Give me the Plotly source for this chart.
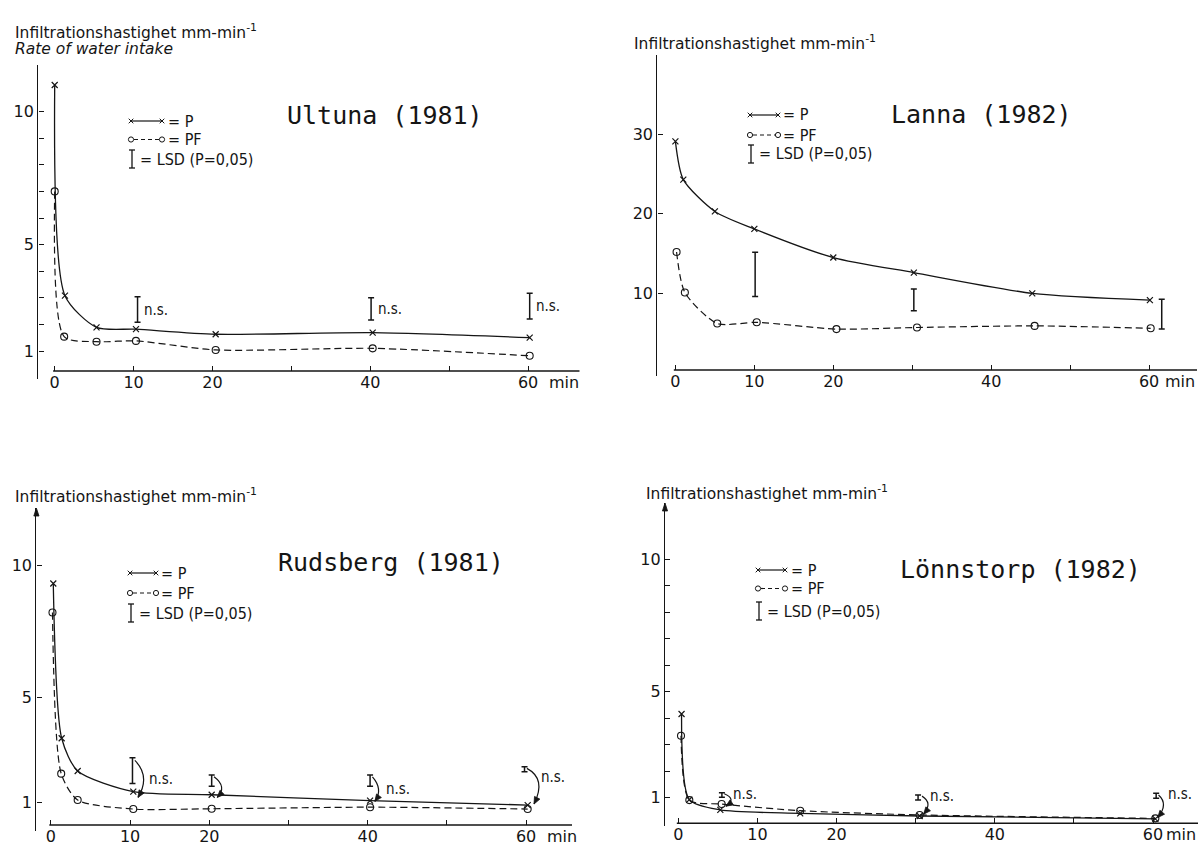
import math
import plotly.graph_objects as go

# ------------------------------------------------------------------ data
# time after start (min) and infiltration rate (mm/min)
ultuna_p_t = [0.0, 1.3, 5.3, 10.3, 20.4, 40.3, 60.2]
ultuna_p = [11.0, 3.08, 1.89, 1.82, 1.63, 1.69, 1.50]
ultuna_pf_t = [0.0, 1.2, 5.3, 10.3, 20.4, 40.3, 60.2]
ultuna_pf = [7.0, 1.54, 1.35, 1.38, 1.04, 1.10, 0.82]
ultuna_lsd_t = [10.5, 40.1, 60.2]
ultuna_lsd_lo = [2.08, 2.17, 2.20]
ultuna_lsd_hi = [3.04, 3.00, 3.17]
ultuna_lsd_note = ["n.s.", "n.s.", "n.s."]

lanna_p_t = [0.0, 1.0, 5.0, 10.0, 20.0, 30.2, 45.2, 60.1]
lanna_p = [29.1, 24.3, 20.3, 18.1, 14.5, 12.6, 10.0, 9.15]
lanna_pf_t = [0.15, 1.2, 5.3, 10.3, 20.4, 30.6, 45.5, 60.2]
lanna_pf = [15.2, 10.1, 6.2, 6.35, 5.5, 5.7, 5.9, 5.6]
lanna_lsd_t = [10.1, 30.2, 61.6]
lanna_lsd_lo = [9.6, 7.8, 5.5]
lanna_lsd_hi = [15.15, 10.55, 9.25]
lanna_lsd_note = ["", "", ""]

rudsberg_p_t = [0.3, 1.36, 3.38, 10.4, 20.3, 40.3, 60.2]
rudsberg_p = [9.3, 3.44, 2.2, 1.42, 1.30, 1.08, 0.91]
rudsberg_pf_t = [0.2, 1.3, 3.38, 10.4, 20.3, 40.3, 60.2]
rudsberg_pf = [8.2, 2.1, 1.1, 0.76, 0.77, 0.83, 0.76]
rudsberg_lsd_t = [10.3, 20.3, 40.3, 59.8]
rudsberg_lsd_lo = [1.73, 1.62, 1.62, 2.17]
rudsberg_lsd_hi = [2.70, 2.05, 2.05, 2.36]
rudsberg_lsd_note = ["n.s.", "", "n.s.", "n.s."]

lonnstorp_p_t = [0.4, 1.38, 5.3, 15.4, 30.5, 60.3]
lonnstorp_p = [4.16, 0.93, 0.54, 0.41, 0.31, 0.20]
lonnstorp_pf_t = [0.33, 1.38, 5.47, 15.4, 30.5, 60.3]
lonnstorp_pf = [3.34, 0.91, 0.76, 0.51, 0.35, 0.22]
lonnstorp_lsd_t = [5.5, 30.3, 60.4]
lonnstorp_lsd_lo = [1.02, 0.91, 0.98]
lonnstorp_lsd_hi = [1.19, 1.10, 1.17]
lonnstorp_lsd_note = ["n.s.", "n.s.", "n.s."]

# labelled and unlabelled ticks on the time axis
x_tickvals = [0, 10, 20, 40, 60]
x_ticktext = ["0", "10", "20", "40", "60"]
x_minorvals = [30, 50]

# ------------------------------------------------------------------ page
W, H = 1200, 849
INK = "#151515"
SANS = "DejaVu Sans, Verdana, sans-serif"
COND = "DejaVu Sans Condensed, DejaVu Sans, sans-serif"
MONO = "DejaVu Sans Mono, monospace"
AXIS_TITLE = "Infiltrationshastighet mm-min<sup>-1</sup>"


def px(x):
    return x / W


def py(y):
    return 1 - y / H


def arrowhead_path(hx, hy, ux, uy, to_x, to_y, length=7.0, half=3.0):
    """Filled triangle with its tip at (hx, hy); (ux, uy) is the unit pointing
    direction in screen pixels, to_x / to_y map pixel offsets to axis units."""
    bx, by = -ux * length, -uy * length
    qx, qy = -uy * half, ux * half
    pts = [(0.0, 0.0), (bx + qx, by + qy), (bx - qx, by - qy)]
    coords = [(hx + to_x(a), hy + to_y(b)) for a, b in pts]
    return "M " + " L ".join(f"{a:.4f},{b:.4f}" for a, b in coords) + " Z"


panels = [
    dict(
        title="Ultuna (1981)", title_xy=(385, 116),
        ytitle_xy=(13, 31), subtitle_xy=(13, 49),
        p_t=ultuna_p_t, p=ultuna_p, pf_t=ultuna_pf_t, pf=ultuna_pf,
        lsd_t=ultuna_lsd_t, lsd_lo=ultuna_lsd_lo, lsd_hi=ultuna_lsd_hi,
        lsd_note=ultuna_lsd_note, note_off=(0.6, 0.0),
        yticks=[1, 5, 10], yminor=[2, 3, 4, 6, 7, 8, 9],
        # pixel frame: y-axis x, x of t=0, px per min, x end, y top/bottom,
        # x-axis line y, y of value 0, px per unit
        yl_x=38.3, t0=54.7, ppm=7.89, xend=579.7, ytop=65, ybot=379,
        xline=371, v0=377.6, ppu=26.6, arrow_top=False, min_t=62.4,
        legend=dict(x0=131, x1=162, rows=(121, 139.5, 159), tx=166),
        arrows=[],
    ),
    dict(
        title="Lanna (1982)", title_xy=(981, 114),
        ytitle_xy=(632, 42), subtitle_xy=None,
        p_t=lanna_p_t, p=lanna_p, pf_t=lanna_pf_t, pf=lanna_pf,
        lsd_t=lanna_lsd_t, lsd_lo=lanna_lsd_lo, lsd_hi=lanna_lsd_hi,
        lsd_note=lanna_lsd_note, note_off=(0.6, 0.0),
        yticks=[10, 20, 30], yminor=[],
        yl_x=657.4, t0=675.4, ppm=7.895, xend=1197, ytop=55, ybot=376,
        xline=370, v0=372.8, ppu=7.95, arrow_top=False, min_t=61.7,
        legend=dict(x0=750, x1=778, rows=(115, 135, 154), tx=781),
        arrows=[],
    ),
    dict(
        title="Rudsberg (1981)", title_xy=(391, 562),
        ytitle_xy=(13, 495), subtitle_xy=None,
        p_t=rudsberg_p_t, p=rudsberg_p, pf_t=rudsberg_pf_t, pf=rudsberg_pf,
        lsd_t=rudsberg_lsd_t, lsd_lo=rudsberg_lsd_lo, lsd_hi=rudsberg_lsd_hi,
        lsd_note=rudsberg_lsd_note, note_off=(1.8, -0.3),
        yticks=[1, 5, 10], yminor=[],
        yl_x=36.4, t0=50.9, ppm=7.92, xend=572, ytop=508, ybot=831,
        xline=825, v0=829.1, ppu=26.41, arrow_top=True, min_t=62.4,
        legend=dict(x0=130, x1=156, rows=(573, 593, 613), tx=159),
        arrows=[
            ((10.6, 2.6), (12.6, 2.0), (11.0, 1.2)),
            ((20.6, 1.98), (22.3, 1.6), (21.0, 1.2)),
            ((40.6, 1.98), (42.0, 1.5), (40.9, 1.05)),
            ((60.1, 2.3), (62.6, 1.9), (61.0, 0.95)),
        ],
    ),
    dict(
        title="Lönnstorp (1982)", title_xy=(1020, 569),
        ytitle_xy=(644, 492), subtitle_xy=None,
        p_t=lonnstorp_p_t, p=lonnstorp_p, pf_t=lonnstorp_pf_t, pf=lonnstorp_pf,
        lsd_t=lonnstorp_lsd_t, lsd_lo=lonnstorp_lsd_lo, lsd_hi=lonnstorp_lsd_hi,
        lsd_note=lonnstorp_lsd_note, note_off=(1.2, 0.05),
        yticks=[1, 5, 10], yminor=[2, 3, 4, 6, 7, 8, 9],
        yl_x=665, t0=678.4, ppm=7.91, xend=1198, ytop=503, ybot=826,
        xline=823.3, v0=824.2, ppu=26.49, arrow_top=True, min_t=61.4,
        legend=dict(x0=758, x1=785, rows=(570, 588.5, 611), tx=789),
        arrows=[
            ((5.8, 1.15), (7.4, 0.95), (6.0, 0.68)),
            ((30.8, 1.06), (32.2, 0.8), (31.0, 0.38)),
            ((60.7, 1.1), (62.0, 0.75), (60.6, 0.25)),
        ],
    ),
]

fig = go.Figure()
shapes, annotations = [], []
layout_axes = {}


def paper_line(x0, y0, x1, y1, width=1.2, dash=None):
    line = dict(color=INK, width=width)
    if dash:
        line["dash"] = dash
    return dict(type="line", xref="paper", yref="paper",
                x0=px(x0), y0=py(y0), x1=px(x1), y1=py(y1), line=line)


for i, pn in enumerate(panels):
    n = "" if i == 0 else str(i + 1)
    xa, ya = "x" + n, "y" + n
    ppm, ppu = pn["ppm"], pn["ppu"]
    xr = [(pn["yl_x"] - pn["t0"]) / ppm, (pn["xend"] - pn["t0"]) / ppm]
    yr = [(pn["v0"] - pn["ybot"]) / ppu, (pn["v0"] - pn["ytop"]) / ppu]
    v_xline = (pn["v0"] - pn["xline"]) / ppu

    layout_axes["xaxis" + n] = dict(
        domain=[px(pn["yl_x"]), px(pn["xend"])], range=xr,
        anchor="free", position=py(pn["xline"]),
        showline=False, showgrid=False, zeroline=False,
        ticks="inside", ticklen=5, tickwidth=1.2, tickcolor=INK,
        tickmode="array", tickvals=x_tickvals, ticktext=x_ticktext,
        minor=dict(tickmode="array", tickvals=x_minorvals, ticks="inside",
                   ticklen=5, tickwidth=1.2, tickcolor=INK, showgrid=False),
        tickfont=dict(family=SANS, size=16, color=INK),
        fixedrange=True,
    )
    yaxis = dict(
        domain=[py(pn["ybot"]), py(pn["ytop"])], range=yr,
        anchor=xa, showline=True, linecolor=INK, linewidth=1.4,
        showgrid=False, zeroline=False,
        ticks="inside", ticklen=5, tickwidth=1.2, tickcolor=INK,
        tickmode="array", tickvals=pn["yticks"],
        ticktext=[str(v) for v in pn["yticks"]],
        tickfont=dict(family=SANS, size=16, color=INK),
        fixedrange=True,
    )
    if pn["yminor"]:
        yaxis["minor"] = dict(tickmode="array", tickvals=pn["yminor"], ticks="inside",
                              ticklen=5, tickwidth=1.2, tickcolor=INK, showgrid=False)
    layout_axes["yaxis" + n] = yaxis

    # x-axis baseline starting at t = 0
    shapes.append(dict(type="line", xref=xa, yref=ya, x0=-0.2, x1=xr[1],
                       y0=v_xline, y1=v_xline, line=dict(color=INK, width=1.4)))
    # "min" unit after the last tick label
    annotations.append(dict(xref=xa, yref="paper", x=pn["min_t"], y=py(pn["xline"] + 11),
                            text="min", showarrow=False, xanchor="left",
                            yanchor="middle",
                            font=dict(family=SANS, size=16, color=INK)))

    # P (solid, crosses) and PF (dashed, open circles)
    fig.add_trace(go.Scatter(
        x=pn["p_t"], y=pn["p"], mode="lines+markers", xaxis=xa, yaxis=ya,
        line=dict(color=INK, width=1.3, shape="spline", smoothing=0.7),
        marker=dict(symbol="x-thin", size=6, line=dict(color=INK, width=1.2)),
        showlegend=False, name="P"))
    fig.add_trace(go.Scatter(
        x=pn["pf_t"], y=pn["pf"], mode="lines+markers", xaxis=xa, yaxis=ya,
        line=dict(color=INK, width=1.2, dash="7px,4px", shape="spline", smoothing=0.7),
        marker=dict(symbol="circle-open", size=7, color=INK,
                    line=dict(color=INK, width=1.1)),
        showlegend=False, name="PF"))

    # LSD bars
    mids = [(lo + hi) / 2 for lo, hi in zip(pn["lsd_lo"], pn["lsd_hi"])]
    halves = [(hi - lo) / 2 for lo, hi in zip(pn["lsd_lo"], pn["lsd_hi"])]
    fig.add_trace(go.Scatter(
        x=pn["lsd_t"], y=mids, mode="markers", xaxis=xa, yaxis=ya,
        marker=dict(size=1, color="rgba(0,0,0,0)"),
        error_y=dict(type="data", array=halves, symmetric=True,
                     width=3, thickness=1.5, color=INK),
        showlegend=False, hoverinfo="skip", name="LSD"))
    dx, dv = pn["note_off"]
    for t, m, note in zip(pn["lsd_t"], mids, pn["lsd_note"]):
        if note:
            annotations.append(dict(xref=xa, yref=ya, x=t + dx, y=m + dv, text=note,
                                    showarrow=False, xanchor="left", yanchor="middle",
                                    font=dict(family=COND, size=15, color=INK)))

    # curved pointers from LSD bars to the curves
    for (s, c, e) in pn["arrows"]:
        shapes.append(dict(type="path", xref=xa, yref=ya,
                           path=f"M {s[0]},{s[1]} Q {c[0]},{c[1]} {e[0]},{e[1]}",
                           line=dict(color=INK, width=1.2)))
        ddx = (e[0] - c[0]) * ppm
        ddy = -(e[1] - c[1]) * ppu
        ln = math.hypot(ddx, ddy) or 1.0
        shapes.append(dict(
            type="path", xref=xa, yref=ya,
            path=arrowhead_path(e[0], e[1], ddx / ln, ddy / ln,
                                lambda a, k=ppm: a / k, lambda b, k=ppu: -b / k),
            fillcolor=INK, line=dict(color=INK, width=0.8)))

    # arrowhead on the y axis
    if pn["arrow_top"]:
        shapes.append(dict(
            type="path", xref="paper", yref="paper",
            path=arrowhead_path(px(pn["yl_x"]), py(pn["ytop"]), 0.0, -1.0,
                                lambda a: a / W, lambda b: -b / H,
                                length=8.0, half=2.6),
            fillcolor=INK, line=dict(color=INK, width=0.8)))

    # panel title, axis title
    tx, ty = pn["title_xy"]
    annotations.append(dict(xref="paper", yref="paper", x=px(tx), y=py(ty),
                            text=pn["title"], showarrow=False, xanchor="center",
                            yanchor="middle",
                            font=dict(family=MONO, size=25, color=INK)))
    ax_, ay_ = pn["ytitle_xy"]
    annotations.append(dict(xref="paper", yref="paper", x=px(ax_), y=py(ay_),
                            text=AXIS_TITLE, showarrow=False, xanchor="left",
                            yanchor="middle",
                            font=dict(family=SANS, size=15.5, color=INK)))
    if pn["subtitle_xy"]:
        sx, sy = pn["subtitle_xy"]
        annotations.append(dict(xref="paper", yref="paper", x=px(sx), y=py(sy),
                                text="<i>Rate of water intake</i>", showarrow=False,
                                xanchor="left", yanchor="middle",
                                font=dict(family=SANS, size=15.5, color=INK)))

    # key: x——x = P, o---o = PF, I = LSD (P=0,05)
    lg = pn["legend"]
    r1, r2, r3 = lg["rows"]
    shapes.append(paper_line(lg["x0"], r1, lg["x1"], r1))
    for xx in (lg["x0"], lg["x1"]):
        shapes.append(paper_line(xx - 2.3, r1 - 2.3, xx + 2.3, r1 + 2.3, width=1.0))
        shapes.append(paper_line(xx - 2.3, r1 + 2.3, xx + 2.3, r1 - 2.3, width=1.0))
    shapes.append(paper_line(lg["x0"] + 3, r2, lg["x1"] - 3, r2, dash="4px,3px"))
    for xx in (lg["x0"], lg["x1"]):
        shapes.append(dict(type="circle", xref="paper", yref="paper",
                           x0=px(xx - 2.6), x1=px(xx + 2.6),
                           y0=py(r2 + 2.6), y1=py(r2 - 2.6),
                           line=dict(color=INK, width=1.0)))
    bx = lg["x0"] + 1
    shapes.append(paper_line(bx, r3 - 9, bx, r3 + 9, width=1.3))
    shapes.append(paper_line(bx - 3, r3 - 9, bx + 3, r3 - 9, width=1.3))
    shapes.append(paper_line(bx - 3, r3 + 9, bx + 3, r3 + 9, width=1.3))
    for row, label, x0 in ((r1, "= P", lg["tx"]), (r2, "= PF", lg["tx"]),
                           (r3, "= LSD (P=0,05)", lg["x0"] + 7)):
        annotations.append(dict(xref="paper", yref="paper", x=px(x0), y=py(row),
                                text=label, showarrow=False, xanchor="left",
                                yanchor="middle",
                                font=dict(family=COND, size=16, color=INK)))

fig.update_layout(
    width=W, height=H, margin=dict(l=0, r=0, t=0, b=0),
    paper_bgcolor="white", plot_bgcolor="white",
    showlegend=False, shapes=shapes, annotations=annotations,
    **layout_axes,
)

fig.write_html("out.html")
